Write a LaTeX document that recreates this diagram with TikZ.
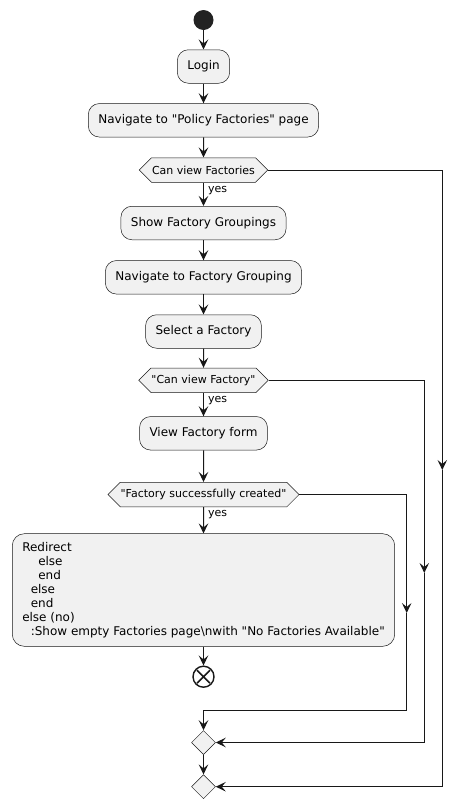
\documentclass[tikz,border=0pt]{standalone}
\usepackage{fontspec}
\setmainfont{DejaVu Sans}[Ligatures=TeXOff]
\usetikzlibrary{arrows.meta,shapes.symbols,shapes.geometric}
\definecolor{boxC}{HTML}{F1F1F1}
\definecolor{lineC}{HTML}{181818}
\definecolor{startC}{HTML}{222222}
\begin{document}
\begin{tikzpicture}[x=1pt,y=-1pt,
  act/.style={draw=lineC, line width=0.5pt, fill=boxC, rounded corners=11pt,
    minimum height=33.5pt, inner xsep=10pt, inner ysep=4pt,
    font=\fontsize{12}{14}\selectfont},
  dec/.style={signal, signal to=west and east, signal pointer angle=90,
    draw=lineC, line width=0.5pt, fill=boxC, minimum height=24.5pt,
    inner xsep=0.5pt, inner ysep=2pt, font=\fontsize{11}{13}\selectfont},
  mergenode/.style={diamond, draw=lineC, line width=0.5pt, fill=boxC,
    minimum width=24pt, minimum height=24pt, inner sep=0pt},
  startnode/.style={circle, fill=startC, minimum size=20pt, inner sep=0pt},
  endnode/.style={circle, draw=lineC, line width=1.4pt, fill=white,
    minimum size=21pt, inner sep=0pt},
  lbl/.style={font=\fontsize{11}{13}\selectfont, inner sep=0pt},
  arr/.style={draw=lineC, line width=1pt,
    -{Stealth[length=10pt,width=9.5pt,inset=4pt]}}
]
\useasboundingbox (0,0) rectangle (467,809);

\node[startnode] (start) at (203.5,20) {};
\node[act] (login) at (203.5,66.5) {Login};
\node[act] (nav) at (203.5,120.3) {Navigate to "Policy Factories" page};
\node[dec] (d1) at (203.5,170) {Can view Factories};
\node[act] (sfg) at (203.5,223) {Show Factory Groupings};
\node[act] (nfg) at (203.5,277.3) {Navigate to Factory Grouping};
\node[act] (sel) at (203.5,331.5) {Select a Factory};
\node[dec] (d2) at (203.5,380.3) {"Can view Factory"};
\node[act] (vff) at (203.5,433.3) {View Factory form};
\node[dec] (d3) at (203.5,494.5) {"Factory successfully created"};
\node[act, align=left, rounded corners=12pt, inner ysep=8.5pt] (big) at (203.5,590)
  {Redirect\\
   \hspace*{16pt}else\\
   \hspace*{16pt}end\\
   \hspace*{8.5pt}else\\
   \hspace*{8.5pt}end\\
   else (no)\\
   \hspace*{8.5pt}:Show empty Factories page\textbackslash nwith "No Factories Available"};
\node[endnode] (end) at (203.5,676.7) {};
\draw[lineC, line width=1.6pt] ([shift={(-6.5,-6.5)}]end.center) -- ([shift={(6.5,6.5)}]end.center)
  ([shift={(-6.5,6.5)}]end.center) -- ([shift={(6.5,-6.5)}]end.center);
\node[mergenode] (m1) at (203.5,742.5) {};
\node[mergenode] (m2) at (203.5,786.7) {};

% main flow
\draw[arr] (start) -- (login);
\draw[arr] (login) -- (nav);
\draw[arr] (nav) -- (d1);
\draw[arr] (d1) -- (sfg);
\path (d1.south) ++(4.5,9.5) node[lbl, anchor=base west] (y1) {yes};
\draw[arr] (sfg) -- (nfg);
\draw[arr] (nfg) -- (sel);
\draw[arr] (sel) -- (d2);
\draw[arr] (d2) -- (vff);
\path (d2.south) ++(4.5,9.5) node[lbl, anchor=base west] (y2) {yes};
\draw[arr] (vff) -- (d3);
\draw[arr] (d3) -- (big);
\path (d3.south) ++(4.5,9.5) node[lbl, anchor=base west] (y3) {yes};
\draw[arr] (big) -- (end);
\draw[arr] (m1) -- (m2);

% right branches
\coordinate (a1) at (442.3,470);
\draw[arr] (d1.east) -| (a1);
\draw[arr] (a1) |- (m2.east);
\coordinate (a2) at (424.3,573);
\draw[arr] (d2.east) -| (a2);
\draw[arr] (a2) |- (m1.east);
\coordinate (a3) at (406.7,613);
\coordinate (t3) at (406.7,710.7);
\draw[arr] (d3.east) -| (a3);
\draw[arr] (a3) -- (t3) -| (m1.north);
\end{tikzpicture}
\end{document}
